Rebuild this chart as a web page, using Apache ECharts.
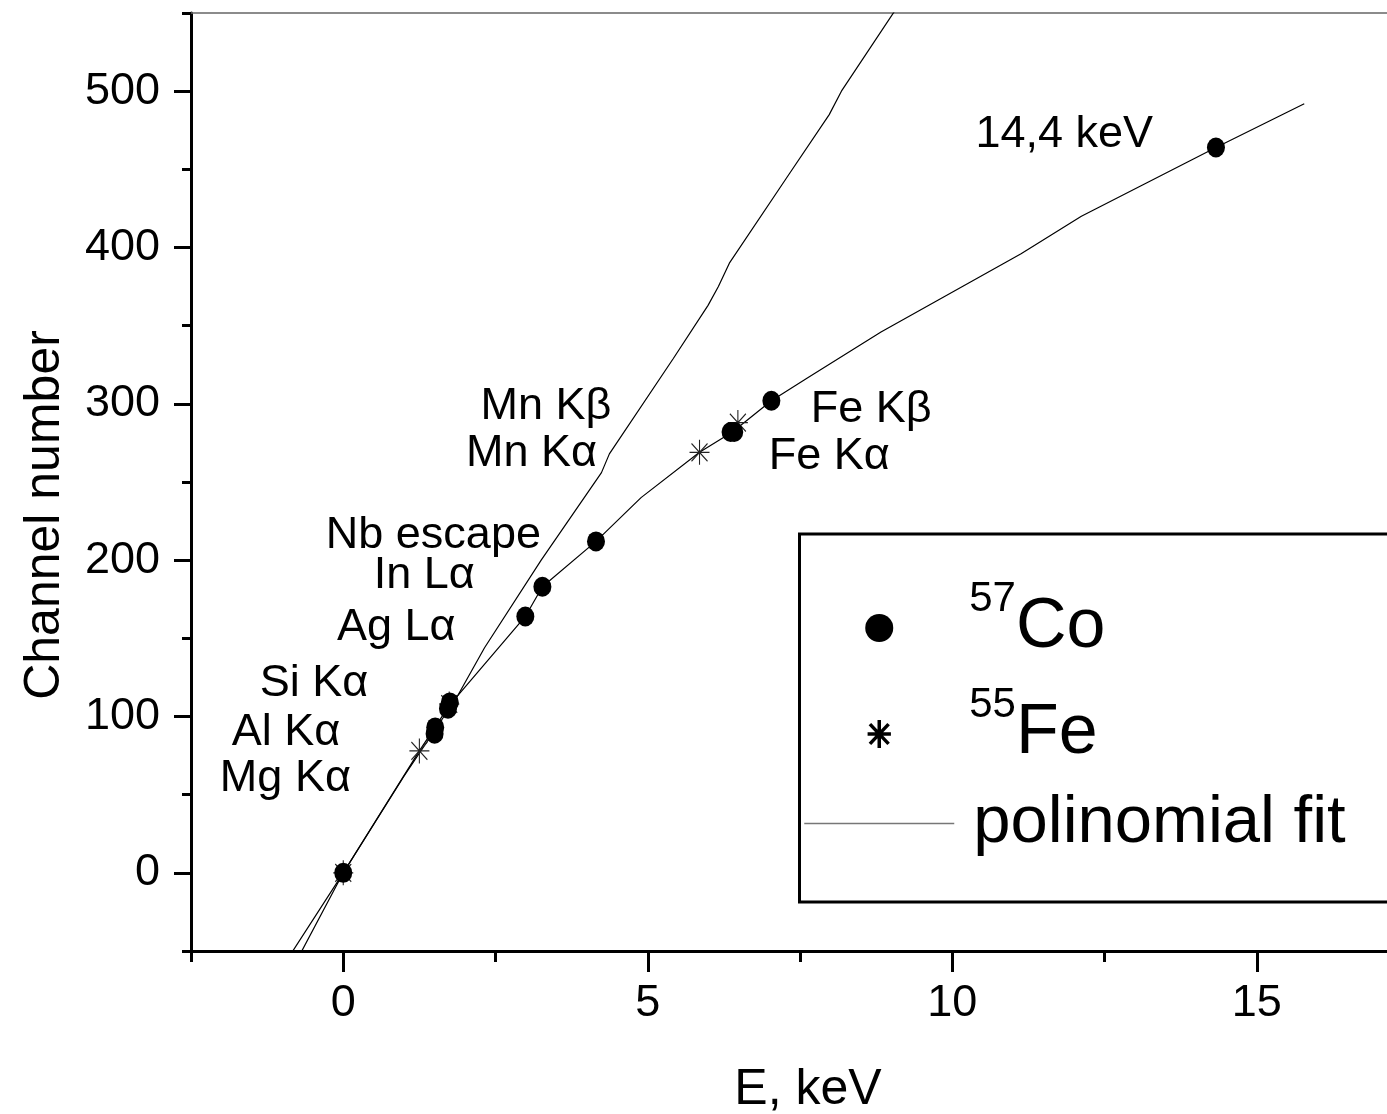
<!DOCTYPE html>
<html>
<head>
    <meta charset="UTF-8">
    <title>Channel number vs E</title>
    <style type="text/css">
        html, body { margin:0; padding:0; background:#fff; }
        #main1 { width:1387px; height:1114px; }
    </style>
</head>
<body>
<div id="main1"></div>
<script type="text/javascript" src="https://cdn.jsdelivr.net/npm/echarts@6/dist/echarts.min.js"></script>
<script type="text/javascript">
    // 57Co points (E keV, channel)
    var coE  = [0, 1.50, 1.51, 1.72, 1.75, 2.99, 3.27, 4.15, 6.36, 6.42, 7.03, 14.33];
    var coCh = [0, 89, 93, 105, 109, 164, 183, 212, 282, 282, 302, 464];
    // 55Fe points
    var feE  = [0, 1.25, 1.74, 5.85, 6.48];
    var feCh = [0, 78, 108, 269, 288];
    // steeper fitted curve
    var fitAE  = [-0.84, 0, 1.0, 1.86, 2.32, 3.25, 4.24, 4.37, 5.42, 5.99, 6.16, 6.34, 7.27, 7.98, 8.18, 9.05];
    var fitACh = [-50.7, 0, 62, 112, 144, 200, 256, 268, 329, 363, 375, 390, 444, 485, 500, 551];
    // polinomial fit through the points
    var fitBE  = [-0.69, 0, 1.25, 1.74, 2.99, 3.27, 4.15, 4.89, 5.85, 6.39, 7.03, 7.64, 8.83, 11.13, 12.12, 14.33, 15.78];
    var fitBCh = [-50.7, 0, 78, 107, 164, 183, 212, 240, 269, 282, 302, 317, 346, 396, 420, 464, 492];
    // line annotations
    var noteText = ['14,4 keV', 'Fe K\u03b2', 'Fe K\u03b1', 'Mn K\u03b2', 'Mn K\u03b1', 'Nb escape', 'In L\u03b1', 'Ag L\u03b1', 'Si K\u03b1', 'Al K\u03b1', 'Mg K\u03b1'];
    var noteE    = [11.84, 8.67, 7.98, 3.33, 3.09, 1.48, 1.33, 0.87, -0.48, -0.94, -0.95];
    var noteCh   = [472, 296, 266, 298, 268, 216, 190, 157, 121, 90, 60];
    // ticks
    var xMajor = [0, 5, 10, 15];
    var yMajor = [0, 100, 200, 300, 400, 500];

    function zip(a, b) {
        var out = [];
        for (var i = 0; i < a.length; i++) out.push([a[i], b[i]]);
        return out;
    }

    var narrow = "'Liberation Sans Narrow', 'Liberation Sans', Arial, sans-serif";
    var sans = "'Liberation Sans', Arial, sans-serif";
    var star = 'path://M0 -12 L0 12 M-10 0 L10 0 M-8 -8.5 L8 8.5 M-8 8.5 L8 -8.5';

    var notes = [];
    for (var i = 0; i < noteText.length; i++) {
        notes.push({name: noteText[i], value: [noteE[i], noteCh[i]]});
    }

    var myChart1 = echarts.init(document.getElementById('main1'));
    var option1 = {
        animation: false,
        backgroundColor: '#fff',
        grid: {left: 191, top: 13, width: 1218, height: 938, outerBoundsMode: 'none', containLabel: false},
        xAxis: [{
            type: 'value', min: -2.5, max: 17.5, interval: 2.5,
            name: 'E, keV', nameLocation: 'middle', nameGap: 114,
            nameTextStyle: {fontSize: 50, fontFamily: sans, color: '#000', padding: [0, 0, 0, 16]},
            axisLine: {onZero: false, lineStyle: {color: '#000', width: 3}},
            axisTick: {length: 11, lineStyle: {color: '#000', width: 3}},
            axisLabel: {
                margin: 30, fontSize: 45, fontFamily: narrow, color: '#000',
                formatter: function (v) { return v % 5 === 0 ? String(v) : ''; }
            },
            splitLine: {show: false}
        }, {
            type: 'value', min: -2.5, max: 17.5, position: 'bottom',
            axisLine: {show: false, onZero: false},
            axisTick: {length: 21, customValues: xMajor, lineStyle: {color: '#000', width: 3}},
            axisLabel: {show: false},
            splitLine: {show: false}
        }, {
            type: 'value', min: -2.5, max: 17.5, position: 'top',
            axisLine: {onZero: false, lineStyle: {color: '#666', width: 1.5}},
            axisTick: {show: false},
            axisLabel: {show: false},
            splitLine: {show: false}
        }],
        yAxis: [{
            type: 'value', min: -50, max: 550, interval: 50,
            axisLine: {onZero: false, lineStyle: {color: '#000', width: 3}},
            axisTick: {length: 9, lineStyle: {color: '#000', width: 3}},
            axisLabel: {
                margin: 31, fontSize: 45, fontFamily: narrow, color: '#000',
                formatter: function (v) { return v % 100 === 0 ? String(v) : ''; }
            },
            splitLine: {show: false}
        }, {
            type: 'value', min: -50, max: 550, position: 'left',
            axisLine: {show: false, onZero: false},
            axisTick: {length: 17, customValues: yMajor, lineStyle: {color: '#000', width: 3}},
            axisLabel: {show: false},
            splitLine: {show: false}
        }],
        legend: {
            left: 799.5, top: 534,
            orient: 'vertical',
            selectedMode: false,
            borderColor: '#000', borderWidth: 3,
            padding: [44, 120, 45, 4],
            itemGap: 21,
            itemWidth: 150, itemHeight: 28,
            data: [
                {name: 'Co', itemStyle: {color: '#000', opacity: 1}},
                {name: 'Fe', itemStyle: {color: 'none', borderColor: '#000', borderWidth: 3.5, opacity: 1}},
                {name: 'fit', itemStyle: {opacity: 0}, lineStyle: {color: '#777', width: 1.5}}
            ],
            formatter: function (name) {
                if (name === 'Co') return '{sup|57}{big|Co}';
                if (name === 'Fe') return '{sup|55}{big|Fe}';
                return '{txt|polinomial fit}';
            },
            textStyle: {
                color: '#000',
                rich: {
                    sup: {fontSize: 42, fontFamily: narrow, verticalAlign: 'top', lineHeight: 42, padding: [0, 0, 0, 10]},
                    big: {fontSize: 70, fontFamily: narrow, lineHeight: 100},
                    txt: {fontSize: 67, fontFamily: narrow, lineHeight: 72, padding: [0, 0, 0, 14]}
                }
            }
        },
        graphic: [{
            type: 'text', x: 45, y: 515, rotation: Math.PI / 2,
            style: {
                text: 'Channel number', fontSize: 50, fontFamily: sans, fill: '#000',
                align: 'center', verticalAlign: 'middle'
            }
        }],
        series: [{
            name: 'fit', type: 'line', data: zip(fitAE, fitACh),
            symbol: 'none', lineStyle: {color: '#000', width: 1.2}, itemStyle: {color: '#000'}, z: 2
        }, {
            name: 'fit', type: 'line', data: zip(fitBE, fitBCh),
            symbol: 'none', lineStyle: {color: '#000', width: 1.2}, itemStyle: {color: '#000'}, z: 2
        }, {
            name: 'Fe', type: 'scatter', data: zip(feE, feCh),
            symbol: star, symbolSize: [20, 25],
            itemStyle: {color: 'none', borderColor: '#222', borderWidth: 1.2, opacity: 1}, z: 3
        }, {
            name: 'Co', type: 'scatter', data: zip(coE, coCh),
            symbol: 'circle', symbolSize: [18, 20],
            itemStyle: {color: '#000', opacity: 1}, z: 4
        }, {
            name: 'notes', type: 'scatter', data: notes,
            symbolSize: 1, itemStyle: {color: 'rgba(0,0,0,0)', opacity: 1}, silent: true, z: 5,
            label: {
                show: true, position: 'inside', formatter: '{b}',
                fontSize: 45, fontFamily: sans, color: '#000'
            }
        }]
    };
    myChart1.setOption(option1);
</script>
</body>
</html>
